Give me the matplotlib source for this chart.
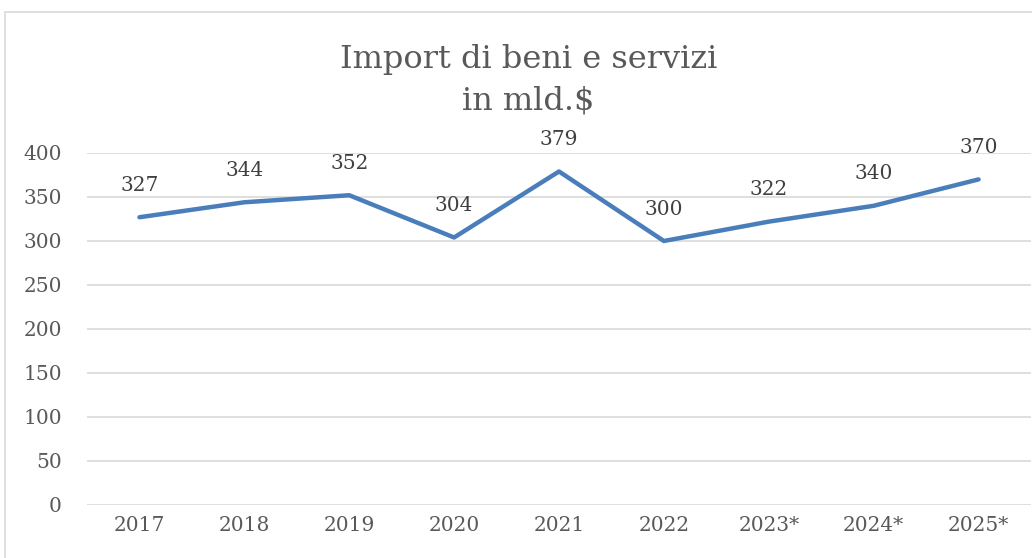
import matplotlib
matplotlib.use("Agg")
import matplotlib.pyplot as plt
from matplotlib.patches import Rectangle

years = ["2017", "2018", "2019", "2020", "2021", "2022", "2023*", "2024*", "2025*"]
values = [327, 344, 352, 304, 379, 300, 322, 340, 370]
yticks = [0, 50, 100, 150, 200, 250, 300, 350, 400]

plt.rcParams['font.family'] = ['DejaVu Serif']
txt = '#595959'

fig = plt.figure(figsize=(10.32, 5.58), dpi=100)
fig.patches.append(Rectangle((5/1032, -0.1), 1.2, 1 - 12/558 + 0.1, transform=fig.transFigure,
                             fill=False, edgecolor='#D9D9D9', linewidth=1.2))
ax = fig.add_axes([87/1032, 1 - 505/558, (1031 - 87)/1032, (505 - 153)/558])
x = list(range(len(years)))
ax.plot(x, values, color='#4A7EBB', linewidth=3.2, solid_capstyle='round', zorder=3)
for xi, v in zip(x, values):
    ax.annotate(str(v), (xi, v), xytext=(0, 23), textcoords='offset points',
                ha='center', va='center', fontsize=14.5, color='#404040')
ax.set_xlim(-0.5, len(years) - 0.5)
ax.set_ylim(0, 400)
ax.set_yticks(yticks)
ax.set_xticks(x)
ax.set_xticklabels(years)
ax.grid(axis='y', color='#D9D9D9', linewidth=1.2)
ax.set_axisbelow(True)
for s in ax.spines.values():
    s.set_visible(False)
ax.tick_params(length=0, labelsize=14.5, colors=txt, pad=8)
ax.tick_params(axis='y', pad=18)
ax.set_facecolor('none')
fig.text(0.512, 1 - 80/558, "Import di beni e servizi\nin mld.$", ha='center', va='center',
         fontsize=23, color=txt, linespacing=1.45)
fig.savefig("out.png", dpi=100)
